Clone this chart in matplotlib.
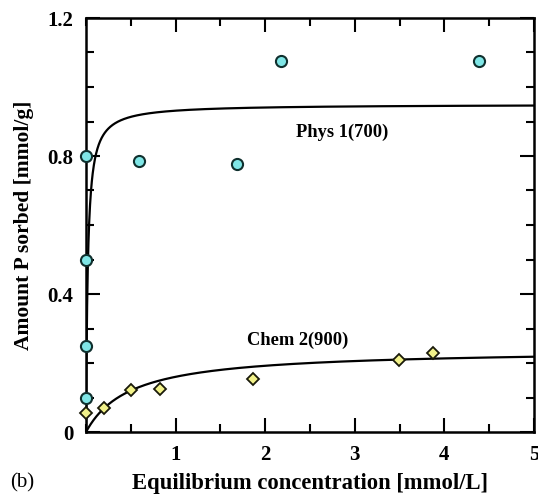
import numpy as np
import matplotlib
matplotlib.use('Agg')
import matplotlib.pyplot as plt
from matplotlib.ticker import MultipleLocator

plt.rcParams['font.family'] = 'Liberation Serif'
plt.rcParams['font.weight'] = 'bold'

# measured points
phys_x = [0.0, 0.0, 0.0, 0.0, 0.59, 1.69, 2.18, 4.39]
phys_y = [0.80, 0.50, 0.25, 0.10, 0.786, 0.777, 1.075, 1.075]
chem_x = [0.0, 0.20, 0.50, 0.83, 1.86, 3.49, 3.87]
chem_y = [0.055, 0.07, 0.121, 0.125, 0.153, 0.21, 0.23]

# Langmuir fits (Qmax, K)
phys_fit = (0.95, 50.0)
chem_fit = (0.24, 2.0)

x = np.linspace(0, 5, 2000)
def langmuir(c, q, k):
    return q * k * c / (1 + k * c)

fig = plt.figure(figsize=(5.38, 4.95), dpi=100)
ax = fig.add_axes([86/538, 1 - 432/495, 448/538, 414/495])

ax.plot(x, langmuir(x, *phys_fit), color='k', lw=1.6, zorder=2)
ax.plot(x, langmuir(x, *chem_fit), color='k', lw=1.6, zorder=2)
ax.plot(phys_x, phys_y, 'o', ms=8, mfc='#7fe6e6', mec='#10302e', mew=1.5,
        clip_on=False, zorder=3)
ax.plot(chem_x, chem_y, 'D', ms=6.5, mfc='#f2f28a', mec='#1a1a0a', mew=1.3,
        clip_on=False, zorder=3)

ax.text(2.34, 0.87, 'Phys 1(700)', fontsize=13.3, fontweight='bold', va='center')
ax.text(1.80, 0.267, 'Chem 2(900)', fontsize=13.3, fontweight='bold', va='center')

ax.set_xlim(0, 5)
ax.set_ylim(0, 1.2)
ax.set_xticks([1, 2, 3, 4, 5])
ax.set_yticks([0, 0.4, 0.8, 1.2])
ax.set_yticklabels(['0', '0.4', '0.8', '1.2'])
ax.xaxis.set_minor_locator(MultipleLocator(0.5))
ax.yaxis.set_minor_locator(MultipleLocator(0.1))
ax.tick_params(which='both', direction='in', top=True, right=True,
               labelsize=15, width=1.5)
ax.tick_params(which='major', length=10, pad=9)
ax.tick_params(which='minor', length=6)
for s in ax.spines.values():
    s.set_linewidth(1.8)

ax.set_xlabel('Equilibrium concentration [mmol/L]', fontsize=16.3,
              fontweight='bold', labelpad=6)
ax.set_ylabel('Amount P sorbed [mmol/g]', fontsize=15.5, fontweight='bold',
              labelpad=10)
fig.text(10/538, 1 - 483/495, '(b)', fontsize=15, fontweight='normal',
         va='center')

fig.savefig('out.png', dpi=100)
